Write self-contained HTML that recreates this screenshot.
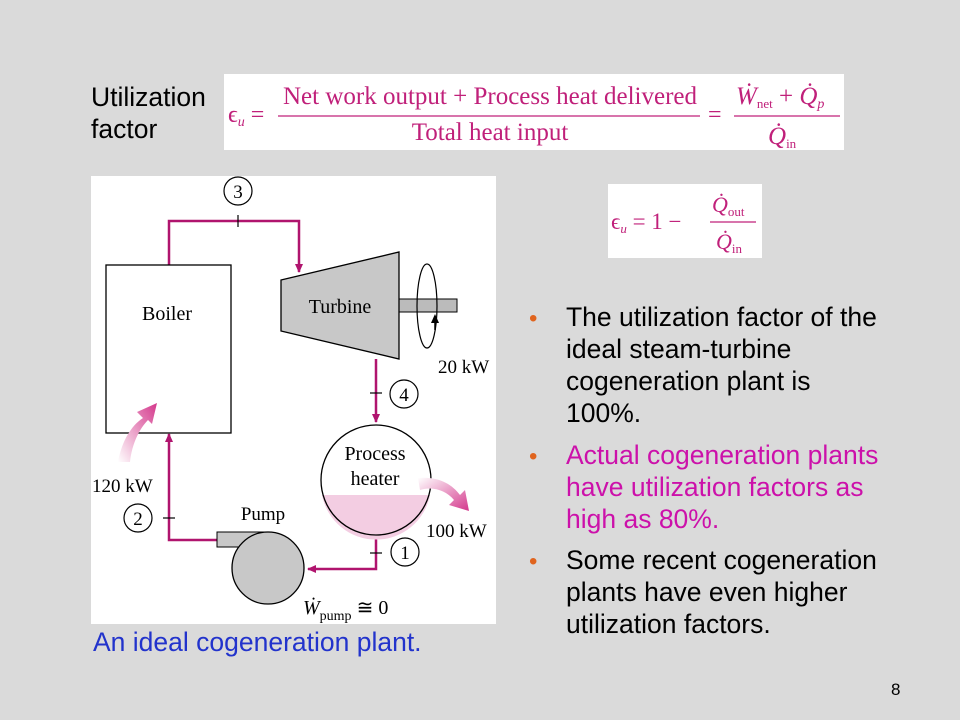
<!DOCTYPE html>
<html><head><meta charset="utf-8"><style>
body{margin:0;background:#dadada;}
svg{display:block}
.s{font-family:"Liberation Sans",sans-serif}
.r{font-family:"Liberation Serif",serif}
</style></head><body>
<svg width="960" height="720" viewBox="0 0 960 720" xmlns="http://www.w3.org/2000/svg">
<defs>
<linearGradient id="g1" x1="0" y1="1" x2="1" y2="0"><stop offset="0" stop-color="#fff"/><stop offset="1" stop-color="#d4388c"/></linearGradient>
<linearGradient id="g2" x1="0" y1="0" x2="1" y2="1"><stop offset="0" stop-color="#fff"/><stop offset="1" stop-color="#d4388c"/></linearGradient>
<marker id="a" markerWidth="10" markerHeight="10" refX="8" refY="5" orient="auto" markerUnits="userSpaceOnUse"><path d="M0,1 L9,5 L0,9 Z" fill="#b0146e"/></marker>
</defs>
<text x="91" y="106" class="s" font-size="26.5" fill="#000">Utilization</text>
<text x="91" y="138" class="s" font-size="26.5" fill="#000">factor</text>
<rect x="224" y="74" width="620" height="76" fill="#fff"/>
<g class="r" fill="#c0207a">
<text x="228" y="122" font-size="24">ϵ<tspan font-size="14" font-style="italic" dy="4">u</tspan><tspan dy="-4"> =</tspan></text>
<text x="490" y="104" font-size="25" text-anchor="middle">Net work output + Process heat delivered</text>
<line x1="278" y1="116" x2="700" y2="116" stroke="#c0207a" stroke-width="1.2"/>
<text x="490" y="140" font-size="25" text-anchor="middle">Total heat input</text>
<text x="708" y="122" font-size="24">=</text>
<text x="736" y="104" font-size="25" font-style="italic">Ẇ<tspan font-size="13" font-style="normal" dy="4">net</tspan><tspan dy="-4" font-style="normal"> + </tspan>Q̇<tspan font-size="14" dy="4">p</tspan></text>
<line x1="734" y1="116" x2="840" y2="116" stroke="#c0207a" stroke-width="1.2"/>
<text x="768" y="144" font-size="25" font-style="italic">Q̇<tspan font-size="13" font-style="normal" dy="4">in</tspan></text>
</g>
<rect x="608" y="184" width="154" height="74" fill="#fff"/>
<g class="r" fill="#c0207a">
<text x="611" y="229" font-size="23">ϵ<tspan font-size="13" font-style="italic" dy="4">u</tspan><tspan dy="-4"> = 1 −</tspan></text>
<text x="712" y="212" font-size="22" font-style="italic">Q̇<tspan font-size="13" font-style="normal" dy="4">out</tspan></text>
<line x1="710" y1="222" x2="756" y2="222" stroke="#c0207a" stroke-width="1.2"/>
<text x="716" y="249" font-size="22" font-style="italic">Q̇<tspan font-size="13" font-style="normal" dy="4">in</tspan></text>
</g>
<rect x="91" y="176" width="405" height="448" fill="#fff"/>
<g fill="none" stroke="#b0146e" stroke-width="2.5">
<polyline points="169,265 169,221 299,221 299,272" marker-end="url(#a)"/>
<polyline points="376,359 376,422" marker-end="url(#a)"/>
<polyline points="376,535 376,569 308,569" marker-end="url(#a)"/>
<polyline points="217,540 169,540 169,434" marker-end="url(#a)"/>
</g>
<g stroke="#000" stroke-width="1.2">
<line x1="238" y1="215" x2="238" y2="227"/>
<line x1="370" y1="393" x2="382" y2="393"/>
<line x1="370" y1="553" x2="382" y2="553"/>
<line x1="163" y1="518" x2="175" y2="518"/>
</g>
<rect x="106" y="265" width="125" height="168" fill="#fff" stroke="#000" stroke-width="1.3"/>
<text x="167" y="320" class="r" font-size="20" text-anchor="middle">Boiler</text>
<rect x="399" y="299" width="58" height="13" fill="#bbb" stroke="#000" stroke-width="1"/>
<polygon points="281,280 399,252 399,359 281,331" fill="#c8c8c8" stroke="#000" stroke-width="1.3"/>
<text x="340" y="313" class="r" font-size="20" text-anchor="middle">Turbine</text>
<ellipse cx="427" cy="306" rx="10" ry="42" fill="none" stroke="#000" stroke-width="1.2"/>
<path d="M435,330 L435,320" stroke="#000" stroke-width="1.5"/><path d="M431,323 L435,314 L439,323 Z"/>
<text x="438" y="373" class="r" font-size="19">20 kW</text>
<circle cx="376" cy="480" r="55" fill="#fff"/>
<path d="M322,495 L430,495 A55,55 0 0 1 322,495 Z" fill="#f3cde2"/>
<circle cx="376" cy="480" r="55" fill="none" stroke="#000" stroke-width="1.3"/>
<text x="375" y="460" class="r" font-size="20" text-anchor="middle">Process</text>
<text x="375" y="485" class="r" font-size="20" text-anchor="middle">heater</text>
<rect x="217" y="532" width="48" height="15" fill="#c8c8c8" stroke="#000" stroke-width="1"/>
<circle cx="268" cy="568" r="36" fill="#c8c8c8" stroke="#000" stroke-width="1.3"/>
<text x="263" y="520" class="r" font-size="19" text-anchor="middle">Pump</text>
<path d="M118,462 C122,440 132,425 143,418 L137,412 L157,403 L152,424 L148,420 C140,428 132,443 130,462 Z" fill="url(#g1)"/>
<path d="M418,478 C438,476 452,484 460,495 L465,490 L469,511 L449,505 L454,500 C446,490 432,486 420,490 Z" fill="url(#g2)"/>
<text x="92" y="492" class="r" font-size="19">120 kW</text>
<text x="426" y="537" class="r" font-size="19">100 kW</text>
<g fill="none" stroke="#000" stroke-width="1.2">
<circle cx="238" cy="191" r="14"/><circle cx="404" cy="394" r="14"/>
<circle cx="405" cy="552" r="14"/><circle cx="138" cy="518" r="14"/>
</g>
<g class="r" font-size="19" text-anchor="middle">
<text x="238" y="198">3</text><text x="404" y="401">4</text>
<text x="405" y="559">1</text><text x="138" y="525">2</text>
</g>
<text x="303" y="614" class="r" font-size="20" font-style="italic">Ẇ<tspan font-size="14" font-style="normal" dy="6">pump</tspan><tspan font-style="normal" dy="-6"> ≅ 0</tspan></text>
<text x="93" y="651" class="s" font-size="26.5" fill="#2233cc">An ideal cogeneration plant.</text>
<g class="s" font-size="26.5">
<text x="529" y="326" fill="#e0641e" font-size="24">•</text>
<text x="566" y="326">The utilization factor of the</text>
<text x="566" y="358">ideal steam-turbine</text>
<text x="566" y="390">cogeneration plant is</text>
<text x="566" y="422">100%.</text>
<text x="529" y="464" fill="#e0641e" font-size="24">•</text>
<g fill="#cc11aa">
<text x="566" y="464">Actual cogeneration plants</text>
<text x="566" y="496">have utilization factors as</text>
<text x="566" y="528">high as 80%.</text>
</g>
<text x="529" y="569" fill="#e0641e" font-size="24">•</text>
<text x="566" y="569">Some recent cogeneration</text>
<text x="566" y="601">plants have even higher</text>
<text x="566" y="633">utilization factors.</text>
</g>
<text x="891" y="695" class="s" font-size="17">8</text>
</svg>
</body></html>
